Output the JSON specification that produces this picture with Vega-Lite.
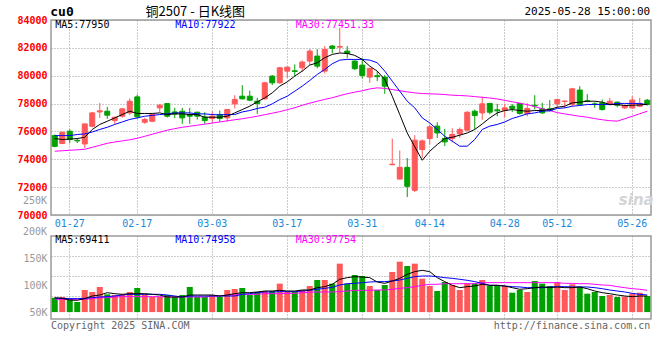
{
"$schema": "https://vega.github.io/schema/vega-lite/v6.json",
"background": "white",
"padding": {"left": 16, "top": 4, "right": 10, "bottom": 5},
"bounds": "flush",
"spacing": 21,
"config": {"view": {"stroke": "#9a9a9a", "strokeWidth": 1.5}, "axis": {"labelFont": "DejaVu Sans Mono", "labelFontSize": 10, "labelOverlap": false}, "text": {"font": "DejaVu Sans Mono", "fontSize": 10}},
"data": {"values": [
{"d":"01-23","o":75700,"h":75780,"l":74860,"c":74930,"m5":75490,"m10":75700,"m30":74580,"v":77000,"v5":77100,"v10":75800,"v30":74000},
{"d":"01-24","o":75130,"h":75980,"l":75100,"c":75940,"m5":75420,"m10":75700,"m30":74610,"v":78400,"v5":75800,"v10":75800,"v30":74000},
{"d":"01-27","o":76015,"h":76140,"l":75170,"c":75420,"m5":75450,"m10":75700,"m30":74650,"v":75200,"v5":72700,"v10":75200,"v30":74000},
{"d":"02-05","o":75360,"h":75530,"l":75170,"c":75320,"m5":75490,"m10":75780,"m30":74680,"v":69000,"v5":72100,"v10":75200,"v30":74000},
{"d":"02-06","o":75100,"h":76560,"l":74810,"c":76540,"m5":75580,"m10":75820,"m30":74720,"v":91500,"v5":75200,"v10":75800,"v30":74000},
{"d":"02-07","o":76370,"h":77380,"l":76300,"c":77330,"m5":76140,"m10":75960,"m30":74860,"v":87800,"v5":80200,"v10":77100,"v30":75200},
{"d":"02-10","o":77400,"h":78050,"l":76970,"c":77480,"m5":76500,"m10":76140,"m30":75000,"v":97200,"v5":82100,"v10":78400,"v30":77100},
{"d":"02-11","o":77450,"h":77760,"l":76900,"c":77165,"m5":76730,"m10":76300,"m30":75150,"v":83400,"v5":86500,"v10":79000,"v30":77100},
{"d":"02-12","o":76780,"h":77050,"l":76540,"c":77020,"m5":76970,"m10":76500,"m30":75240,"v":82100,"v5":84600,"v10":80200,"v30":78400},
{"d":"02-13","o":77094,"h":77690,"l":76990,"c":77620,"m5":77210,"m10":76680,"m30":75320,"v":83400,"v5":83400,"v10":82100,"v30":79000},
{"d":"02-14","o":77330,"h":78370,"l":77170,"c":78170,"m5":77450,"m10":76860,"m30":75400,"v":87800,"v5":84600,"v10":83400,"v30":79000},
{"d":"02-17","o":78480,"h":78650,"l":76900,"c":77050,"m5":77290,"m10":76970,"m30":75510,"v":95300,"v5":84600,"v10":83400,"v30":79000},
{"d":"02-18","o":76660,"h":76970,"l":76550,"c":76860,"m5":77290,"m10":77090,"m30":75650,"v":83400,"v5":84600,"v10":83400,"v30":79000},
{"d":"02-19","o":76730,"h":77230,"l":76660,"c":77215,"m5":77290,"m10":77150,"m30":75800,"v":78400,"v5":83400,"v10":83400,"v30":79000},
{"d":"02-20","o":77690,"h":77980,"l":77380,"c":77885,"m5":77330,"m10":77210,"m30":75940,"v":78400,"v5":82100,"v10":83400,"v30":79000},
{"d":"02-21","o":78000,"h":78010,"l":77000,"c":77094,"m5":77210,"m10":77260,"m30":76090,"v":82100,"v5":78400,"v10":82100,"v30":78400},
{"d":"02-24","o":77400,"h":77700,"l":76950,"c":77250,"m5":77260,"m10":77330,"m30":76200,"v":78400,"v5":78400,"v10":80200,"v30":78400},
{"d":"02-25","o":77450,"h":77690,"l":76540,"c":76970,"m5":77260,"m10":77330,"m30":76300,"v":82100,"v5":78400,"v10":78400,"v30":78400},
{"d":"02-26","o":77215,"h":77690,"l":76540,"c":77094,"m5":77210,"m10":77330,"m30":76370,"v":97200,"v5":82100,"v10":80200,"v30":78400},
{"d":"02-27","o":77380,"h":77420,"l":76850,"c":77094,"m5":77210,"m10":77260,"m30":76450,"v":78400,"v5":82100,"v10":80200,"v30":78400},
{"d":"02-28","o":77020,"h":77380,"l":76540,"c":76780,"m5":77020,"m10":77260,"m30":76520,"v":78400,"v5":82100,"v10":80200,"v30":78400},
{"d":"03-03","o":76930,"h":77450,"l":76610,"c":77094,"m5":77020,"m10":77210,"m30":76600,"v":82100,"v5":82100,"v10":80200,"v30":80200},
{"d":"03-04","o":77215,"h":77500,"l":76690,"c":76930,"m5":77020,"m10":77190,"m30":76680,"v":78400,"v5":80200,"v10":80200,"v30":80200},
{"d":"03-05","o":76970,"h":77600,"l":76690,"c":77575,"m5":77090,"m10":77210,"m30":76760,"v":91500,"v5":82100,"v10":80200,"v30":82100},
{"d":"03-06","o":77980,"h":78605,"l":77650,"c":78295,"m5":77330,"m10":77210,"m30":76840,"v":93400,"v5":84600,"v10":80200,"v30":82100},
{"d":"03-07","o":78530,"h":79324,"l":78290,"c":78340,"m5":77570,"m10":77400,"m30":76910,"v":95300,"v5":86500,"v10":83400,"v30":83400},
{"d":"03-10","o":78530,"h":78930,"l":78170,"c":78245,"m5":77810,"m10":77500,"m30":77000,"v":82100,"v5":86500,"v10":84600,"v30":83400},
{"d":"03-11","o":78173,"h":78410,"l":77260,"c":78010,"m5":78120,"m10":77650,"m30":77090,"v":87800,"v5":87800,"v10":86500,"v30":83400},
{"d":"03-12","o":78340,"h":79560,"l":78290,"c":79490,"m5":78410,"m10":77740,"m30":77200,"v":89600,"v5":89600,"v10":87800,"v30":84600},
{"d":"03-13","o":79970,"h":80050,"l":79330,"c":79490,"m5":78770,"m10":77980,"m30":77310,"v":89600,"v5":89600,"v10":87800,"v30":84600},
{"d":"03-14","o":79490,"h":80640,"l":79420,"c":80570,"m5":79250,"m10":78290,"m30":77420,"v":103400,"v5":90900,"v10":88400,"v30":84600},
{"d":"03-17","o":80330,"h":80640,"l":79850,"c":80620,"m5":79560,"m10":78530,"m30":77560,"v":87800,"v5":89600,"v10":88400,"v30":85200},
{"d":"03-18","o":80350,"h":80810,"l":79970,"c":80310,"m5":79970,"m10":78890,"m30":77700,"v":87800,"v5":89600,"v10":88400,"v30":85200},
{"d":"03-19","o":80570,"h":81100,"l":80300,"c":80980,"m5":80330,"m10":79250,"m30":77880,"v":91500,"v5":91500,"v10":89600,"v30":86500},
{"d":"03-20","o":81050,"h":81910,"l":80770,"c":81770,"m5":80760,"m10":79660,"m30":78030,"v":99000,"v5":91500,"v10":90900,"v30":87200},
{"d":"03-21","o":81410,"h":81910,"l":80530,"c":80690,"m5":80930,"m10":80090,"m30":78170,"v":110300,"v5":95900,"v10":92800,"v30":87800},
{"d":"03-24","o":80330,"h":82130,"l":80170,"c":81890,"m5":81290,"m10":80450,"m30":78300,"v":110300,"v5":97800,"v10":94600,"v30":87800},
{"d":"03-25","o":82130,"h":82210,"l":81610,"c":81960,"m5":81530,"m10":80860,"m30":78420,"v":103400,"v5":102200,"v10":96500,"v30":87800},
{"d":"03-26","o":82050,"h":83450,"l":81650,"c":82100,"m5":81630,"m10":81120,"m30":78570,"v":141000,"v5":111600,"v10":100900,"v30":88400},
{"d":"03-27","o":81770,"h":82130,"l":81250,"c":81610,"m5":81600,"m10":81170,"m30":78710,"v":103400,"v5":114700,"v10":103400,"v30":89600},
{"d":"03-28","o":81050,"h":81100,"l":80420,"c":80500,"m5":81460,"m10":81170,"m30":78820,"v":119700,"v5":116600,"v10":104000,"v30":90900},
{"d":"03-31","o":80760,"h":81250,"l":79800,"c":80020,"m5":81170,"m10":81170,"m30":78920,"v":117800,"v5":115900,"v10":105300,"v30":90900},
{"d":"04-01","o":79900,"h":80560,"l":79490,"c":80530,"m5":80690,"m10":81120,"m30":79050,"v":99000,"v5":114700,"v10":106500,"v30":90900},
{"d":"04-02","o":80000,"h":80330,"l":79610,"c":79930,"m5":80330,"m10":80930,"m30":79130,"v":91500,"v5":106500,"v10":107200,"v30":91500},
{"d":"04-03","o":79900,"h":80040,"l":78700,"c":79250,"m5":79730,"m10":80330,"m30":79090,"v":100900,"v5":104000,"v10":107200,"v30":91500},
{"d":"04-07","o":73610,"h":75490,"l":73570,"c":73650,"m5":78530,"m10":79610,"m30":79010,"v":125300,"v5":108400,"v10":108400,"v30":92800},
{"d":"04-08","o":72580,"h":74630,"l":72580,"c":73420,"m5":77210,"m10":78890,"m30":78920,"v":144700,"v5":113400,"v10":110300,"v30":94600},
{"d":"04-09","o":73420,"h":74090,"l":71290,"c":72060,"m5":75890,"m10":78170,"m30":78840,"v":136600,"v5":121000,"v10":113400,"v30":95900},
{"d":"04-10","o":71770,"h":75730,"l":71650,"c":75370,"m5":74900,"m10":77690,"m30":78770,"v":141000,"v5":126000,"v10":116600,"v30":97800},
{"d":"04-11","o":74700,"h":75420,"l":74100,"c":75320,"m5":73930,"m10":76970,"m30":78720,"v":112800,"v5":128500,"v10":117800,"v30":100300},
{"d":"04-14","o":75490,"h":76500,"l":75060,"c":76330,"m5":74580,"m10":76610,"m30":78700,"v":99000,"v5":126000,"v10":117800,"v30":102200},
{"d":"04-15","o":76380,"h":76660,"l":75530,"c":75890,"m5":75060,"m10":76140,"m30":78680,"v":89600,"v5":114700,"v10":116600,"v30":102200},
{"d":"04-16","o":75490,"h":76180,"l":74950,"c":75250,"m5":75490,"m10":75650,"m30":78650,"v":106500,"v5":107200,"v10":114700,"v30":103400},
{"d":"04-17","o":75490,"h":76230,"l":75220,"c":75780,"m5":75580,"m10":75300,"m30":78600,"v":100900,"v5":100300,"v10":113400,"v30":103400},
{"d":"04-18","o":75820,"h":76280,"l":75540,"c":76140,"m5":75730,"m10":74940,"m30":78580,"v":91500,"v5":95900,"v10":111600,"v30":103400},
{"d":"04-21","o":76090,"h":77450,"l":75990,"c":77380,"m5":75890,"m10":74940,"m30":78550,"v":104100,"v5":97800,"v10":109700,"v30":103400},
{"d":"04-22","o":77450,"h":77570,"l":76160,"c":77140,"m5":76140,"m10":75420,"m30":78500,"v":104100,"v5":99000,"v10":107200,"v30":103400},
{"d":"04-23","o":77330,"h":78500,"l":76830,"c":77980,"m5":76540,"m10":76140,"m30":78450,"v":110300,"v5":102200,"v10":104000,"v30":105300},
{"d":"04-24","o":78010,"h":78050,"l":77230,"c":77380,"m5":76970,"m10":76380,"m30":78400,"v":99000,"v5":100300,"v10":100300,"v30":105300},
{"d":"04-25","o":77550,"h":77980,"l":77090,"c":77480,"m5":77330,"m10":76500,"m30":78330,"v":99000,"v5":100300,"v10":100300,"v30":105300},
{"d":"04-28","o":77520,"h":78000,"l":77000,"c":77690,"m5":77500,"m10":76680,"m30":78230,"v":99000,"v5":99000,"v10":99000,"v30":105300},
{"d":"04-29","o":77810,"h":77960,"l":77400,"c":77650,"m5":77570,"m10":76930,"m30":78130,"v":86400,"v5":95900,"v10":97800,"v30":105300},
{"d":"04-30","o":78010,"h":78050,"l":77200,"c":77290,"m5":77500,"m10":77090,"m30":78030,"v":91500,"v5":92800,"v10":97200,"v30":105300},
{"d":"05-06","o":77290,"h":78020,"l":77080,"c":77650,"m5":77450,"m10":77260,"m30":77920,"v":87800,"v5":94000,"v10":95900,"v30":105300},
{"d":"05-07","o":77880,"h":78600,"l":77580,"c":77840,"m5":77500,"m10":77330,"m30":77780,"v":108400,"v5":95900,"v10":95900,"v30":105300},
{"d":"05-08","o":77620,"h":78060,"l":77260,"c":77330,"m5":77500,"m10":77450,"m30":77630,"v":103400,"v5":97200,"v10":95900,"v30":105300},
{"d":"05-09","o":77620,"h":78250,"l":77420,"c":77500,"m5":77570,"m10":77480,"m30":77500,"v":99000,"v5":95900,"v10":97200,"v30":105300},
{"d":"05-12","o":77980,"h":78300,"l":77690,"c":78290,"m5":77740,"m10":77650,"m30":77350,"v":106500,"v5":97200,"v10":97800,"v30":105300},
{"d":"05-13","o":78150,"h":78220,"l":77690,"c":78180,"m5":77810,"m10":77690,"m30":77260,"v":91500,"v5":95900,"v10":97800,"v30":104000},
{"d":"05-14","o":77940,"h":79130,"l":77800,"c":79060,"m5":78050,"m10":77810,"m30":77170,"v":102200,"v5":95900,"v10":97200,"v30":104000},
{"d":"05-15","o":78970,"h":79250,"l":77860,"c":77940,"m5":78100,"m10":77860,"m30":77090,"v":97700,"v5":97200,"v10":97200,"v30":103400},
{"d":"05-16","o":78200,"h":78680,"l":78100,"c":78150,"m5":78170,"m10":77930,"m30":77020,"v":84600,"v5":94000,"v10":97200,"v30":103400},
{"d":"05-19","o":77980,"h":78100,"l":77690,"c":77930,"m5":78170,"m10":77930,"m30":76920,"v":87800,"v5":89600,"v10":95900,"v30":102200},
{"d":"05-20","o":78050,"h":78290,"l":77500,"c":77570,"m5":78100,"m10":77930,"m30":76840,"v":80200,"v5":86500,"v10":94000,"v30":100900},
{"d":"05-21","o":77930,"h":78410,"l":77860,"c":78170,"m5":77930,"m10":77930,"m30":76770,"v":82100,"v5":84600,"v10":91500,"v30":100300},
{"d":"05-22","o":78100,"h":78150,"l":77740,"c":77880,"m5":77930,"m10":78010,"m30":76740,"v":78400,"v5":82100,"v10":89600,"v30":97800},
{"d":"05-23","o":77690,"h":77930,"l":77620,"c":77860,"m5":77860,"m10":78010,"m30":76910,"v":79000,"v5":80200,"v10":87800,"v30":95900},
{"d":"05-26","o":77690,"h":78530,"l":77620,"c":78250,"m5":77880,"m10":78010,"m30":77090,"v":84600,"v5":79000,"v10":85200,"v30":94000},
{"d":"05-27","o":77810,"h":78410,"l":77740,"c":78020,"m5":77900,"m10":78000,"m30":77270,"v":86400,"v5":80200,"v10":83400,"v30":92800},
{"d":"05-28","o":78240,"h":78330,"l":77860,"c":77930,"m5":77950,"m10":77920,"m30":77450,"v":80200,"v5":80200,"v10":82100,"v30":90900}
]},
"vconcat": [
{
"width": 600, "height": 195,
"layer": [
{"mark": {"type": "rule", "strokeWidth": 1},
 "encoding": {
  "x": {"field": "d", "type": "ordinal", "sort": null, "title": null, "scale": {"type": "band", "paddingInner": 0, "paddingOuter": 0},
        "axis": {"values": ["01-27","02-17","03-03","03-17","03-31","04-14","04-28","05-12","05-26"], "bandPosition": 0.5, "labelAngle": 0, "labelColor": "#1a88d8", "labelPadding": 3, "ticks": false, "domain": false, "grid": true, "gridDash": [1,2], "gridColor": "#999999"}},
  "y": {"field": "l", "type": "quantitative", "title": null, "scale": {"domain": [70000, 84000], "nice": false, "zero": false},
        "axis": {"values": [70000,72000,74000,76000,78000,80000,82000,84000], "tickCount": 30, "format": "d", "labelColor": "#ff0000", "labelFontWeight": "bold", "labelPadding": 4, "labelOverlap": false, "labelBound": false, "ticks": false, "domain": false, "grid": true, "gridDash": [1,2], "gridColor": "#999999"}},
  "y2": {"field": "h"},
  "color": {"condition": {"test": "datum.c >= datum.o", "value": "#ff5858"}, "value": "#00a000"}
 }},
{"mark": {"type": "bar", "size": 5, "strokeWidth": 1},
 "encoding": {
  "x": {"field": "d", "type": "ordinal", "sort": null},
  "y": {"field": "o", "type": "quantitative", "title": null},
  "y2": {"field": "c"},
  "color": {"condition": {"test": "datum.c >= datum.o", "value": "#ff5858"}, "value": "#00a000"},
  "stroke": {"condition": {"test": "datum.c >= datum.o", "value": "#ff5858"}, "value": "#00a000"}
 }},
{"mark": {"type": "line", "color": "#ff00ff", "strokeWidth": 1},
 "encoding": {"x": {"field": "d", "type": "ordinal", "sort": null}, "y": {"field": "m30", "type": "quantitative", "title": null}}},
{"mark": {"type": "line", "color": "#0000ff", "strokeWidth": 1},
 "encoding": {"x": {"field": "d", "type": "ordinal", "sort": null}, "y": {"field": "m10", "type": "quantitative", "title": null}}},
{"mark": {"type": "line", "color": "#000000", "strokeWidth": 1},
 "encoding": {"x": {"field": "d", "type": "ordinal", "sort": null}, "y": {"field": "m5", "type": "quantitative", "title": null}}},
{"transform": [{"filter": "datum.d == '01-23'"}],
 "mark": {"type": "text", "align": "left", "baseline": "middle", "dx": 0.5, "dy": 4.5, "color": "#000000"},
 "encoding": {"x": {"field": "d", "type": "ordinal", "sort": null}, "y": {"datum": 84000}, "text": {"value": "MA5:77950"}}},
{"transform": [{"filter": "datum.d == '02-24'"}],
 "mark": {"type": "text", "align": "left", "baseline": "middle", "dx": 0.5, "dy": 4.5, "color": "#0000ff"},
 "encoding": {"x": {"field": "d", "type": "ordinal", "sort": null}, "y": {"datum": 84000}, "text": {"value": "MA10:77922"}}},
{"transform": [{"filter": "datum.d == '03-18'"}],
 "mark": {"type": "text", "align": "left", "baseline": "middle", "dx": 1, "dy": 4.5, "color": "#ff00ff"},
 "encoding": {"x": {"field": "d", "type": "ordinal", "sort": null}, "y": {"datum": 84000}, "text": {"value": "MA30:77451.33"}}},
{"transform": [{"filter": "datum.d == '01-23'"}],
 "mark": {"type": "text", "align": "left", "baseline": "middle", "dx": -4.5, "dy": -8.5, "fontSize": 13, "fontWeight": "bold", "color": "#000000"},
 "encoding": {"x": {"field": "d", "type": "ordinal", "sort": null}, "y": {"datum": 84000}, "text": {"value": "cu0"}}},
{"transform": [{"filter": "datum.d == '02-27'"}],
 "mark": {"type": "text", "align": "center", "baseline": "middle", "dx": -2, "dy": -8.5, "fontSize": 13, "font": "Noto Sans CJK SC", "color": "#000000"},
 "encoding": {"x": {"field": "d", "type": "ordinal", "sort": null}, "y": {"datum": 84000}, "text": {"value": "铜2507 - 日K线图"}}},
{"transform": [{"filter": "datum.d == '05-28'"}],
 "mark": {"type": "text", "align": "right", "baseline": "middle", "dx": 3, "dy": -8.5, "fontSize": 11, "color": "#000000"},
 "encoding": {"x": {"field": "d", "type": "ordinal", "sort": null}, "y": {"datum": 84000}, "text": {"value": "2025-05-28 15:00:00"}}},
{"transform": [{"filter": "datum.d == '01-23'"}],
 "mark": {"type": "text", "align": "right", "baseline": "middle", "dx": -7.75, "color": "#999999"},
 "encoding": {"x": {"field": "d", "type": "ordinal", "sort": null}, "y": {"datum": 71000}, "text": {"value": "250K"}}},
{"transform": [{"filter": "datum.d == '05-26'"}],
 "mark": {"type": "text", "align": "center", "baseline": "middle", "dx": 4, "fontSize": 15, "fontStyle": "italic", "fontWeight": "bold", "font": "DejaVu Sans", "color": "#d4d4d4"},
 "encoding": {"x": {"field": "d", "type": "ordinal", "sort": null}, "y": {"datum": 71100}, "text": {"value": "sina"}}}
]
},
{
"width": 600, "height": 83,
"layer": [
{"mark": {"type": "bar", "size": 6},
 "encoding": {
  "x": {"field": "d", "type": "ordinal", "sort": null, "title": null, "scale": {"type": "band", "paddingInner": 0, "paddingOuter": 0},
        "axis": {"values": ["01-27","02-17","03-03","03-17","03-31","04-14","04-28","05-12","05-26"], "bandPosition": 0.5, "labels": false, "ticks": false, "domain": false, "grid": true, "gridDash": [1,2], "gridColor": "#999999"}},
  "y": {"field": "v", "type": "quantitative", "title": null, "scale": {"domain": [37000, 193000], "nice": false, "zero": false},
        "axis": {"values": [50000, 80200, 100000, 117800, 150000, 155400], "tickCount": 30, "labelExpr": "datum.value == 50000 ? '50K' : datum.value == 100000 ? '100K' : datum.value == 150000 ? '150K' : ''", "labelColor": "#999999", "labelPadding": 4, "labelOverlap": false, "ticks": false, "domain": false, "grid": true, "gridDash": [1,2], "gridColor": "#999999",
                 "gridOpacity": {"condition": {"test": "datum.value == 80200 || datum.value == 117800 || datum.value == 155400", "value": 1}, "value": 0}}},
  "y2": {"datum": 50000},
  "color": {"condition": {"test": "datum.c >= datum.o", "value": "#ff5858"}, "value": "#00a000"}
 }},
{"mark": {"type": "line", "color": "#ff00ff", "strokeWidth": 1},
 "encoding": {"x": {"field": "d", "type": "ordinal", "sort": null}, "y": {"field": "v30", "type": "quantitative", "title": null}}},
{"mark": {"type": "line", "color": "#0000ff", "strokeWidth": 1},
 "encoding": {"x": {"field": "d", "type": "ordinal", "sort": null}, "y": {"field": "v10", "type": "quantitative", "title": null}}},
{"mark": {"type": "line", "color": "#000000", "strokeWidth": 1},
 "encoding": {"x": {"field": "d", "type": "ordinal", "sort": null}, "y": {"field": "v5", "type": "quantitative", "title": null}}},
{"transform": [{"filter": "datum.d == '01-23'"}],
 "mark": {"type": "text", "align": "left", "baseline": "middle", "dx": 0.5, "dy": 4, "color": "#000000"},
 "encoding": {"x": {"field": "d", "type": "ordinal", "sort": null}, "y": {"datum": 193000}, "text": {"value": "MA5:69411"}}},
{"transform": [{"filter": "datum.d == '02-24'"}],
 "mark": {"type": "text", "align": "left", "baseline": "middle", "dx": 0.5, "dy": 4, "color": "#0000ff"},
 "encoding": {"x": {"field": "d", "type": "ordinal", "sort": null}, "y": {"datum": 193000}, "text": {"value": "MA10:74958"}}},
{"transform": [{"filter": "datum.d == '03-18'"}],
 "mark": {"type": "text", "align": "left", "baseline": "middle", "dx": 1, "dy": 4, "color": "#ff00ff"},
 "encoding": {"x": {"field": "d", "type": "ordinal", "sort": null}, "y": {"datum": 193000}, "text": {"value": "MA30:97754"}}},
{"transform": [{"filter": "datum.d == '01-23'"}],
 "mark": {"type": "text", "align": "right", "baseline": "middle", "dx": -7.75, "dy": -4, "color": "#999999"},
 "encoding": {"x": {"field": "d", "type": "ordinal", "sort": null}, "y": {"datum": 193000}, "text": {"value": "200K"}}},
{"transform": [{"filter": "datum.d == '01-23'"}],
 "mark": {"type": "text", "align": "left", "baseline": "top", "dx": -3.75, "dy": 2, "color": "#666666"},
 "encoding": {"x": {"field": "d", "type": "ordinal", "sort": null}, "y": {"datum": 37000}, "text": {"value": "Copyright 2025 SINA.COM"}}},
{"transform": [{"filter": "datum.d == '05-28'"}],
 "mark": {"type": "text", "align": "right", "baseline": "top", "dx": 3, "dy": 2, "color": "#666666"},
 "encoding": {"x": {"field": "d", "type": "ordinal", "sort": null}, "y": {"datum": 37000}, "text": {"value": "http://finance.sina.com.cn"}}}
]
}
]
}
